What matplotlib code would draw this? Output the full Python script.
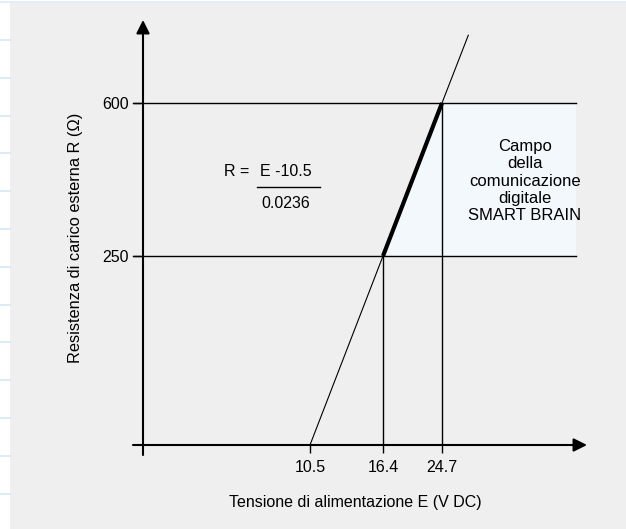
import numpy as np
import matplotlib
matplotlib.use("Agg")
import matplotlib.pyplot as plt
from matplotlib import font_manager
from matplotlib.patches import Rectangle

# values
E_ticks = [10.5, 16.4, 24.7]          # tensione (V DC)
R_ticks = [0, 250, 600]               # resistenza (ohm)
R_labels = ["250", "600"]
E_labels = ["10.5", "16.4", "24.7"]
line_E = [10.5, 16.4, 24.7, 28.4]     # retta R = (E - 10.5) / 0.0236
line_R = [0, 250, 600, 755]
smart_E = [16.4, 24.7]                # tratto spesso
smart_R = [250, 600]
campo_text = "Campo\ndella\ncomunicazione\ndigitale\nSMART BRAIN"

W, H = 626, 529
names = {f.name for f in font_manager.fontManager.ttflist}
NARROW = "Liberation Sans Narrow" if "Liberation Sans Narrow" in names else "Liberation Sans"
REG = "Liberation Sans"

# schematic axes: not to scale, so map values piecewise onto pixel positions
def piecewise(vals, pos):
    vals = np.asarray(vals, float)
    pos = np.asarray(pos, float)
    s0 = (pos[1] - pos[0]) / (vals[1] - vals[0])
    s1 = (pos[-1] - pos[-2]) / (vals[-1] - vals[-2])
    big = 1e4
    v = np.concatenate([[vals[0] - big], vals, [vals[-1] + big]])
    p = np.concatenate([[pos[0] - big * s0], pos, [pos[-1] + big * s1]])
    return (lambda x: np.interp(x, v, p)), (lambda y: np.interp(y, p, v))

fx, ix = piecewise(E_ticks, [310, 383, 442])
fy, iy = piecewise(R_ticks, [H - 445, H - 256, H - 103])

fig = plt.figure(figsize=(W / 100, H / 100), dpi=100, facecolor="white")

# page background
bg = fig.add_axes([0, 0, 1, 1], zorder=0)
bg.set_xlim(0, W)
bg.set_ylim(H, 0)
bg.axis("off")
bg.add_patch(Rectangle((10, 3), W - 10, H - 3, color="#efefef", lw=0))
bg.plot([0, W], [2, 2], color="#dbeaf7", lw=1.2)
for yy in np.arange(40, H, 37.8):
    bg.plot([0, 10], [yy, yy], color="#d6e8f7", lw=1.2)

ax = fig.add_axes([0, 0, 1, 1], zorder=1)
ax.patch.set_alpha(0)
ax.set_xscale("function", functions=(fx, ix))
ax.set_yscale("function", functions=(fy, iy))
ax.set_xlim(ix(0), ix(W))
ax.set_ylim(iy(0), iy(H))

x_left = 133 / W
x_axis = 143 / W
x_right = 576 / W
E_right = float(ix(576))

# campo SMART BRAIN
ax.fill([smart_E[0], smart_E[1], E_right, E_right],
        [smart_R[0], smart_R[1], smart_R[1], smart_R[0]],
        color="#f3f8fc", lw=0, zorder=1)

for r in R_ticks[1:]:
    ax.axhline(r, xmin=x_left, xmax=x_right, color="black", lw=1.0, zorder=2)
ax.vlines(E_ticks[1:], 0, R_ticks[1:], color="black", lw=1.0, zorder=2)

ax.plot(line_E, line_R, color="black", lw=0.8, zorder=3)
ax.plot(smart_E, smart_R, color="black", lw=3.0, zorder=4, solid_capstyle="butt")

# axes with arrows
arrow = dict(arrowstyle="-|>", color="black", lw=1.5, mutation_scale=20,
             shrinkA=0, shrinkB=0)
ax.annotate("", xy=(587 / W, 0), xytext=(x_left, 0),
            xycoords=("axes fraction", "data"), arrowprops=arrow)
ax.annotate("", xy=(x_axis, (H - 20) / H), xytext=(x_axis, (H - 455) / H),
            xycoords="axes fraction", arrowprops=arrow)

for s in ax.spines.values():
    s.set_visible(False)
ax.spines["bottom"].set_position(("data", 0))
ax.spines["left"].set_position(("axes", x_axis))
ax.set_xticks(E_ticks, E_labels)
ax.set_yticks(R_ticks[1:], R_labels)
ax.minorticks_off()
ax.tick_params(axis="x", direction="out", length=5.8, width=1.0, pad=5,
               labelsize=11.5, colors="black")
ax.tick_params(axis="y", direction="out", length=7.2, width=1.0, pad=3,
               labelsize=11.5, colors="black")
for lab in ax.get_xticklabels() + ax.get_yticklabels():
    lab.set_family(NARROW)

# labels
ax.text(355 / W, (H - 502) / H, "Tensione di alimentazione E (V DC)",
        transform=ax.transAxes, ha="center", va="center", fontsize=11.5,
        family=NARROW)
ax.text(76 / W, (H - 238) / H, "Resistenza di carico esterna R (\u03a9)",
        transform=ax.transAxes, ha="center", va="center", rotation=90,
        fontsize=11.8, family=REG)

# formula
ax.text(237 / W, (H - 172) / H, "R =", transform=ax.transAxes, ha="center",
        va="center", fontsize=11.5, family=NARROW)
ax.text(286 / W, (H - 172) / H, "E -10.5", transform=ax.transAxes,
        ha="center", va="center", fontsize=11.5, family=NARROW)
ax.plot([257 / W, 320 / W], [(H - 187) / H] * 2, transform=ax.transAxes,
        color="black", lw=1.0)
ax.text(286 / W, (H - 203) / H, "0.0236", transform=ax.transAxes,
        ha="center", va="center", fontsize=11.5, family=NARROW)

ax.text(525 / W, (H - 181) / H, campo_text, transform=ax.transAxes,
        ha="center", va="center", fontsize=12, family=NARROW,
        linespacing=1.17)

fig.savefig("out.png", dpi=100, facecolor="white")
